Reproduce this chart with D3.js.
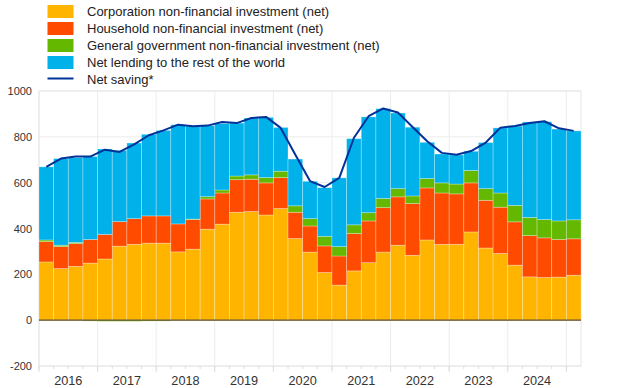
<!DOCTYPE html>
<html><head><meta charset="utf-8">
<script src="https://cdn.jsdelivr.net/npm/d3@7"></script>
<style>body{margin:0;background:#fff}svg{display:block;font-family:"Liberation Sans",Arial,sans-serif}</style>
</head><body><svg id="c" width="620" height="388"></svg>
<script>
const years = ["2016","2017","2018","2019","2020","2021","2022","2023","2024"];
const quarters = ["2016Q1","2016Q2","2016Q3","2016Q4","2017Q1","2017Q2","2017Q3","2017Q4","2018Q1","2018Q2","2018Q3","2018Q4","2019Q1","2019Q2","2019Q3","2019Q4","2020Q1","2020Q2","2020Q3","2020Q4","2021Q1","2021Q2","2021Q3","2021Q4","2022Q1","2022Q2","2022Q3","2022Q4","2023Q1","2023Q2","2023Q3","2023Q4","2024Q1","2024Q2","2024Q3","2024Q4","2025Q1"];
const corporation = [254,225,235,249,267,323,331,336,336,298,310,397,419,471,474,459,487,356,297,208,153,215,251,297,327,283,350,331,331,385,315,291,240,189,186,188,196];
const household = [89,96,99,103,107,107,112,119,119,122,129,132,136,142,141,140,135,115,114,116,127,163,182,194,211,226,227,224,220,214,208,202,189,180,173,164,159];
const government = [7,6,5,-4,-5,-5,-5,-4,-4,0,2,10,13,16,19,23,28,28,32,42,41,38,36,40,36,33,41,44,43,54,51,62,72,79,80,81,83];
const netLending = [319,378,370,362,373,311,330,356,373,433,405,310,290,231,248,263,191,204,163,212,300,376,418,392,330,300,158,126,127,84,201,284,346,417,427,401,388];
const netSaving = [669,705,714,714,744,734,767,807,828,853,846,849,865,860,882,887,839,722,607,581,621,796,890,924,906,843,781,730,722,738,775,840,847,860,868,837,826];
const yTicks = [-200,0,200,400,600,800,1000];

const series = [
  {key:"corporation", label:"Corporation non-financial investment (net)", color:"#FFB400", values:corporation},
  {key:"household", label:"Household non-financial investment (net)", color:"#FF4B00", values:household},
  {key:"government", label:"General government non-financial investment (net)", color:"#65B800", values:government},
  {key:"netLending", label:"Net lending to the rest of the world", color:"#00B1EA", values:netLending}
];

const svg = d3.select("#c");
const L = 39, R = 581, T = 91, B = 366;
const x = d3.scaleBand().domain(quarters).range([L, R]).paddingInner(0).paddingOuter(0);
const y = d3.scaleLinear().domain([-200, 1000]).range([B, T]);

// grid
const g = svg.append("g");
g.selectAll(".hg").data(yTicks).enter().append("line")
  .attr("x1", L).attr("x2", R).attr("y1", d => y(d)).attr("y2", d => y(d))
  .attr("stroke", "#ececec").attr("stroke-width", 1);
const yearStarts = quarters.filter(q => q.endsWith("Q1"));
g.selectAll(".vg").data(yearStarts).enter().append("line")
  .attr("x1", d => x(d)).attr("x2", d => x(d)).attr("y1", T).attr("y2", B)
  .attr("stroke", "#ececec").attr("stroke-width", 1);
g.append("rect").attr("x", L).attr("y", T).attr("width", R - L).attr("height", B - T)
  .attr("fill", "none").attr("stroke", "#e6e6e6");

// stacked bars
const table = quarters.map((q, i) => {
  const o = {q};
  series.forEach(s => o[s.key] = s.values[i]);
  return o;
});
const stack = d3.stack().keys(series.map(s => s.key)).offset(d3.stackOffsetDiverging);
const stacked = stack(table);
stacked.forEach((layer, li) => {
  svg.append("g").selectAll("rect").data(layer).enter().append("rect")
    .attr("x", d => x(d.data.q))
    .attr("width", x.bandwidth())
    .attr("y", d => y(Math.max(d[0], d[1])))
    .attr("height", d => Math.abs(y(d[0]) - y(d[1])))
    .attr("fill", series[li].color)
    .attr("stroke", "rgba(255,255,255,0.35)").attr("stroke-width", 0.8);
});

// zero line
svg.append("line").attr("x1", L).attr("x2", R).attr("y1", y(0)).attr("y2", y(0))
  .attr("stroke", "#5e4c24").attr("stroke-width", 1.2);

// net saving line
const line = d3.line().x((d, i) => x(quarters[i]) + x.bandwidth() / 2).y(d => y(d));
svg.append("path").datum(netSaving).attr("d", line)
  .attr("fill", "none").attr("stroke", "#003299").attr("stroke-width", 2).attr("stroke-linejoin", "round");

// y axis labels
svg.append("g").selectAll("text").data(yTicks).enter().append("text")
  .attr("x", 32).attr("y", d => y(d) + 4).attr("text-anchor", "end")
  .attr("font-size", 11).attr("fill", "#333").text(d => d);

// x ticks
const ax = svg.append("g");
ax.selectAll(".mt").data(quarters).enter().append("line")
  .attr("x1", d => x(d)).attr("x2", d => x(d)).attr("y1", B).attr("y2", B + 3)
  .attr("stroke", "#ddd");
ax.selectAll(".Mt").data(yearStarts).enter().append("line")
  .attr("x1", d => x(d)).attr("x2", d => x(d)).attr("y1", B).attr("y2", B + 6)
  .attr("stroke", "#ddd");
ax.selectAll("text").data(years).enter().append("text")
  .attr("x", (d) => x(d + "Q1") + 2 * x.bandwidth())
  .attr("y", 385).attr("text-anchor", "middle").attr("font-size", 12.7).attr("fill", "#333")
  .text(d => d);

// legend
const lg = svg.append("g");
const rows = series.map(s => ({label: s.label, color: s.color, type: "box"}))
  .concat([{label: "Net saving*", color: "#003299", type: "line"}]);
rows.forEach((r, i) => {
  const cy = 11.5 + i * 17;
  if (r.type === "box") {
    lg.append("rect").attr("x", 47.5).attr("y", cy - 6.5).attr("width", 26).attr("height", 13).attr("fill", r.color);
  } else {
    lg.append("line").attr("x1", 47.5).attr("x2", 73.5).attr("y1", cy - 1).attr("y2", cy - 1)
      .attr("stroke", r.color).attr("stroke-width", 2);
  }
  lg.append("text").attr("x", 87).attr("y", cy + 4.5).attr("font-size", 13).attr("fill", "#222").text(r.label);
});
</script></body></html>
